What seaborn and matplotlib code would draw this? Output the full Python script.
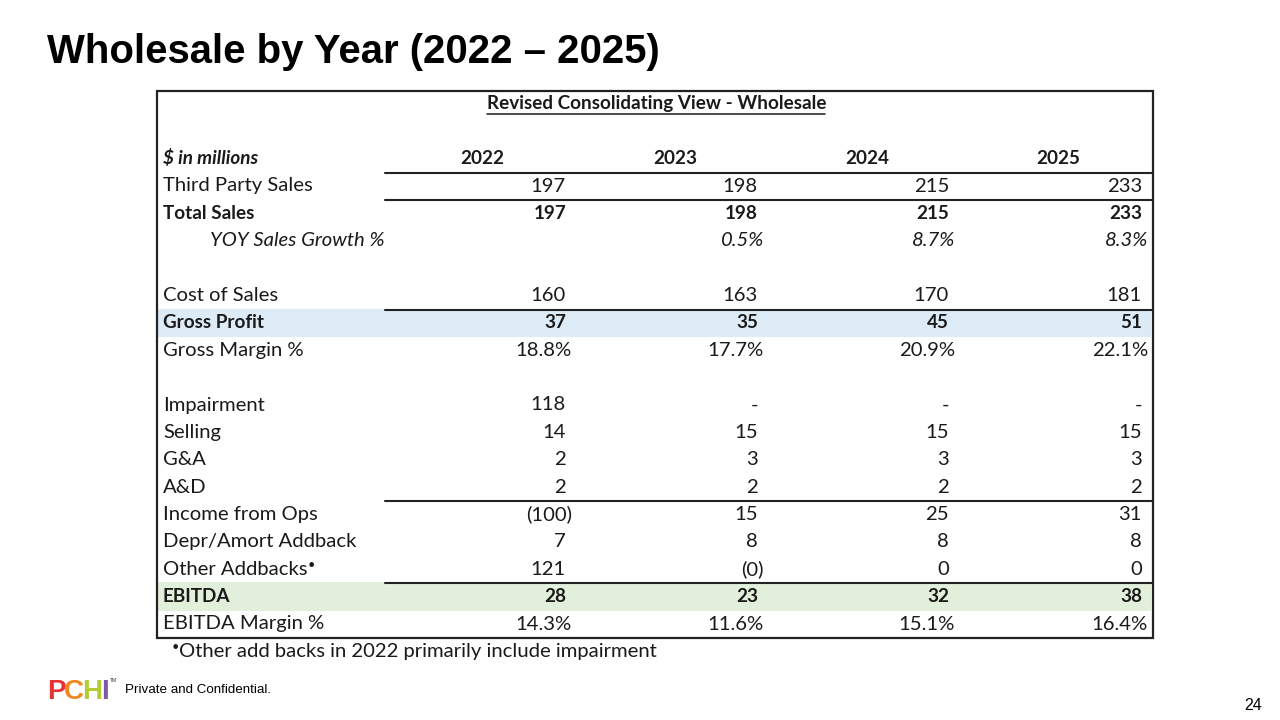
import matplotlib
matplotlib.use("Agg")
import matplotlib.pyplot as plt
import seaborn as sns
import numpy as np

sns.set_theme(style="white")
plt.rcParams['font.family'] = ['Lato', 'DejaVu Sans']

# ---------------- data ----------------
years = ["2022", "2023", "2024", "2025"]
row_labels = ["Third Party Sales", "Total Sales", "YOY Sales Growth %", "",
              "Cost of Sales", "Gross Profit", "Gross Margin %", "",
              "Impairment", "Selling", "G&A", "A&D",
              "Income from Ops", "Depr/Amort Addback", "Other Addbacks\u2022",
              "EBITDA", "EBITDA Margin %"]
third_party_sales = ["197", "198", "215", "233"]
total_sales = ["197", "198", "215", "233"]
yoy_growth = ["", "0.5%", "8.7%", "8.3%"]
cost_of_sales = ["160", "163", "170", "181"]
gross_profit = ["37", "35", "45", "51"]
gross_margin = ["18.8%", "17.7%", "20.9%", "22.1%"]
impairment = ["118", "-", "-", "-"]
selling = ["14", "15", "15", "15"]
g_and_a = ["2", "3", "3", "3"]
a_and_d = ["2", "2", "2", "2"]
income_ops = ["(100)", "15", "25", "31"]
depr_amort = ["7", "8", "8", "8"]
other_addbacks = ["121", "(0)", "0", "0"]
ebitda = ["28", "23", "32", "38"]
ebitda_margin = ["14.3%", "11.6%", "15.1%", "16.4%"]
blank = ["", "", "", ""]
footnote = "\u2022Other add backs in 2022 primarily include impairment"

row_values = [third_party_sales, total_sales, yoy_growth, blank,
              cost_of_sales, gross_profit, gross_margin, blank,
              impairment, selling, g_and_a, a_and_d,
              income_ops, depr_amort, other_addbacks, ebitda, ebitda_margin]
bold_rows = {1, 5, 15}
italic_rows = {2}
band_rows = {5: "#DDEBF7", 15: "#E2EFDA"}
lines_below = [-1, 0, 4, 11, 14]   # -1 = below header

# ---------------- layout ----------------
W, H = 1280, 720
fig = plt.figure(figsize=(12.8, 7.2), dpi=100)
fig.patch.set_facecolor("white")
ax = fig.add_axes([0, 0, 1, 1])
ax.set_xlim(0, W)
ax.set_ylim(H, 0)
ax.axis("off")
renderer = fig.canvas.get_renderer()

txt = "#1a1a1a"
fs = 14.6
fsb = 13.6
row0_y, row_h = 186.0, 27.375
label_x = 163
indent_x = 210
col_right = [572, 764, 955, 1148]
col_center = [482, 675, 867, 1058]
pad = 6
frame_l, frame_r, frame_t, frame_b = 157, 1153, 91, 638
line_l = 385

def ry(i):
    return row0_y + i * row_h

def text_with_dot(x, y, s, **kw):
    """Draw text; a trailing/leading bullet is drawn as a small raised dot."""
    size = kw.pop("fontsize")
    if s.startswith("\u2022"):
        d = ax.text(x, y - 4, "\u2022", ha="left", va="center", fontsize=size * 0.62, **kw)
        bb = d.get_window_extent(renderer)
        ax.text(x + bb.width, y, s[1:], ha="left", va="center", fontsize=size, **kw)
    elif s.endswith("\u2022"):
        t = ax.text(x, y, s[:-1], ha="left", va="center", fontsize=size, **kw)
        bb = t.get_window_extent(renderer)
        ax.text(x + bb.width, y - 4, "\u2022", ha="left", va="center", fontsize=size * 0.62, **kw)
    else:
        ax.text(x, y, s, ha="left", va="center", fontsize=size, **kw)

# bands
for i, c in band_rows.items():
    ax.add_patch(plt.Rectangle((frame_l + 1, ry(i) - row_h / 2 - 0.5), frame_r - frame_l - 3,
                               row_h + 1, facecolor=c, edgecolor="none", zorder=0))

# frame
ax.add_patch(plt.Rectangle((frame_l, frame_t), frame_r - frame_l, frame_b - frame_t,
                           facecolor="none", edgecolor="#222222", lw=1.6, zorder=3))

# table title
ax.text((frame_l + frame_r) / 2 + 2, 104, "Revised Consolidating View - Wholesale",
        ha="center", va="center", fontsize=fsb, fontweight="bold", color=txt)
ax.plot([487, 825], [114, 114], color=txt, lw=1.1)

# header
ax.text(label_x, 158, "$ in millions", ha="left", va="center", fontsize=fsb,
        fontweight="bold", fontstyle="italic", color=txt)
for j, yr in enumerate(years):
    ax.text(col_center[j], 158, yr, ha="center", va="center", fontsize=fsb,
            fontweight="bold", color=txt)

# separator lines
for i in lines_below:
    y = ry(i) + row_h / 2 + 0.5 if i >= 0 else 173
    ax.plot([line_l, frame_r], [y, y], color="#222222", lw=1.5, zorder=2)

# rows
for i, (lab, vals) in enumerate(zip(row_labels, row_values)):
    y = ry(i)
    bold = i in bold_rows
    weight = "bold" if bold else "normal"
    size = fsb if bold else fs
    style = "italic" if i in italic_rows else "normal"
    x0 = indent_x if i in italic_rows else label_x
    if lab:
        text_with_dot(x0, y, lab, fontsize=size, fontweight=weight, fontstyle=style, color=txt)
    for j, v in enumerate(vals):
        if not v:
            continue
        xr = col_right[j]
        if not (v.endswith(")") or v.endswith("%")):
            xr -= pad
        ax.text(xr, y, v, ha="right", va="center", fontsize=size, fontweight=weight,
                fontstyle=style, color=txt)

# footnote
text_with_dot(172, 651, footnote, fontsize=fs, color=txt)

# slide title
ax.text(47, 63, "Wholesale by Year (2022 \u2013 2025)", ha="left", va="baseline",
        fontsize=28.9, fontweight="bold", color="black",
        family=["Liberation Sans", "DejaVu Sans"])

# logo
logo_letters = ["P", "C", "H", "I"]
logo_colors = ["#E53234", "#F5841F", "#B3CC33", "#7E5AA6"]
lx = 47
for ch, c in zip(logo_letters, logo_colors):
    t = ax.text(lx, 699, ch, ha="left", va="baseline", fontsize=20, fontweight="heavy",
                color=c, family=["Liberation Sans", "DejaVu Sans"])
    bb = t.get_window_extent(renderer)
    lx += bb.width - 1.5
ax.text(lx + 2, 681, "TM", ha="left", va="center", fontsize=3.5, color="#333333",
        family=["Liberation Sans", "DejaVu Sans"])
ax.text(125, 690, "Private and Confidential.", ha="left", va="center", fontsize=9.6,
        color="black", family=["Liberation Sans", "DejaVu Sans"])
ax.text(1262, 706, "24", ha="right", va="center", fontsize=11.5, color="black",
        family=["Liberation Sans", "DejaVu Sans"])

fig.savefig("out.png", dpi=100, facecolor="white")
